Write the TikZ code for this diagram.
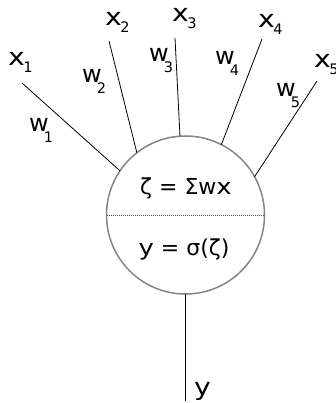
\documentclass[tikz,border=0pt]{standalone}
\usepackage{fontspec}
\setmainfont{DejaVu Sans}
\usepackage{tikz}
\usetikzlibrary{positioning}

\newcommand{\lblfont}{\fontsize{24}{24}\selectfont}
\newcommand{\subfont}{\fontsize{14.5}{14.5}\selectfont}
\newcommand{\wideltr}[1]{\scalebox{1.18}[1]{#1}}
\newcommand{\xsub}[1]{\wideltr{x}\kern-1.5pt\raisebox{-7pt}{\subfont #1}}
\newcommand{\wsub}[1]{w\kern-5pt\raisebox{-10.5pt}{\subfont #1}}

\begin{document}
\begin{tikzpicture}[
  x=1pt,y=-1pt,
  neuron/.style={draw=black!48,line width=1.5pt,circle,minimum size=158pt,inner sep=0pt,outer sep=0pt,fill=white},
  synapse/.style={draw=black,line width=0.8pt},
  divider/.style={draw=black!70,line width=0.7pt,dash pattern=on 1pt off 1pt},
  lbl/.style={anchor=base west,inner sep=0pt,font=\lblfont},
  inner/.style={anchor=base,inner sep=0pt,font=\fontsize{22}{22}\selectfont}
]
\useasboundingbox (0,0) rectangle (335,403);

\node[neuron] (neuron) at (185.5,215) {};
\draw[divider] (neuron.west) -- (neuron.east);
\node[inner] (sum) at (186,194) {ζ = Σw\wideltr{x}};
\node[inner] (act) at (184,255) {\wideltr{y} = σ(ζ)};

\coordinate (in1) at (22,83);
\coordinate (in2) at (109,41);
\coordinate (in3) at (175,38);
\coordinate (in4) at (262,39);
\coordinate (in5) at (317,81);
\coordinate (out) at (185.5,401);

\draw[synapse] (in1) -- (neuron.146.7);
\draw[synapse] (in2) -- (neuron.128.6);
\draw[synapse] (in3) -- (neuron.94);
\draw[synapse] (in4) -- (neuron.63.7);
\draw[synapse] (in5) -- (neuron.29.9);
\draw[synapse] (neuron.south) -- (out);

\node[lbl] (x1) at (8,66) {\xsub{1}};
\node[lbl] (x2) at (105,26) {\xsub{2}};
\node[lbl] (x3) at (172,22) {\xsub{3}};
\node[lbl] (x4) at (258,28) {\xsub{4}};
\node[lbl] (x5) at (314,68) {\xsub{5}};

\node[lbl] (w1) at (29,132) {\wsub{1}};
\node[lbl] (w2) at (82,83) {\wsub{2}};
\node[lbl] (w3) at (149,62) {\wsub{3}};
\node[lbl] (w4) at (215,65) {\wsub{4}};
\node[lbl] (w5) at (276,97) {\wsub{5}};

\node[lbl] (ylbl) at (194,395) {\wideltr{y}};
\end{tikzpicture}
\end{document}
